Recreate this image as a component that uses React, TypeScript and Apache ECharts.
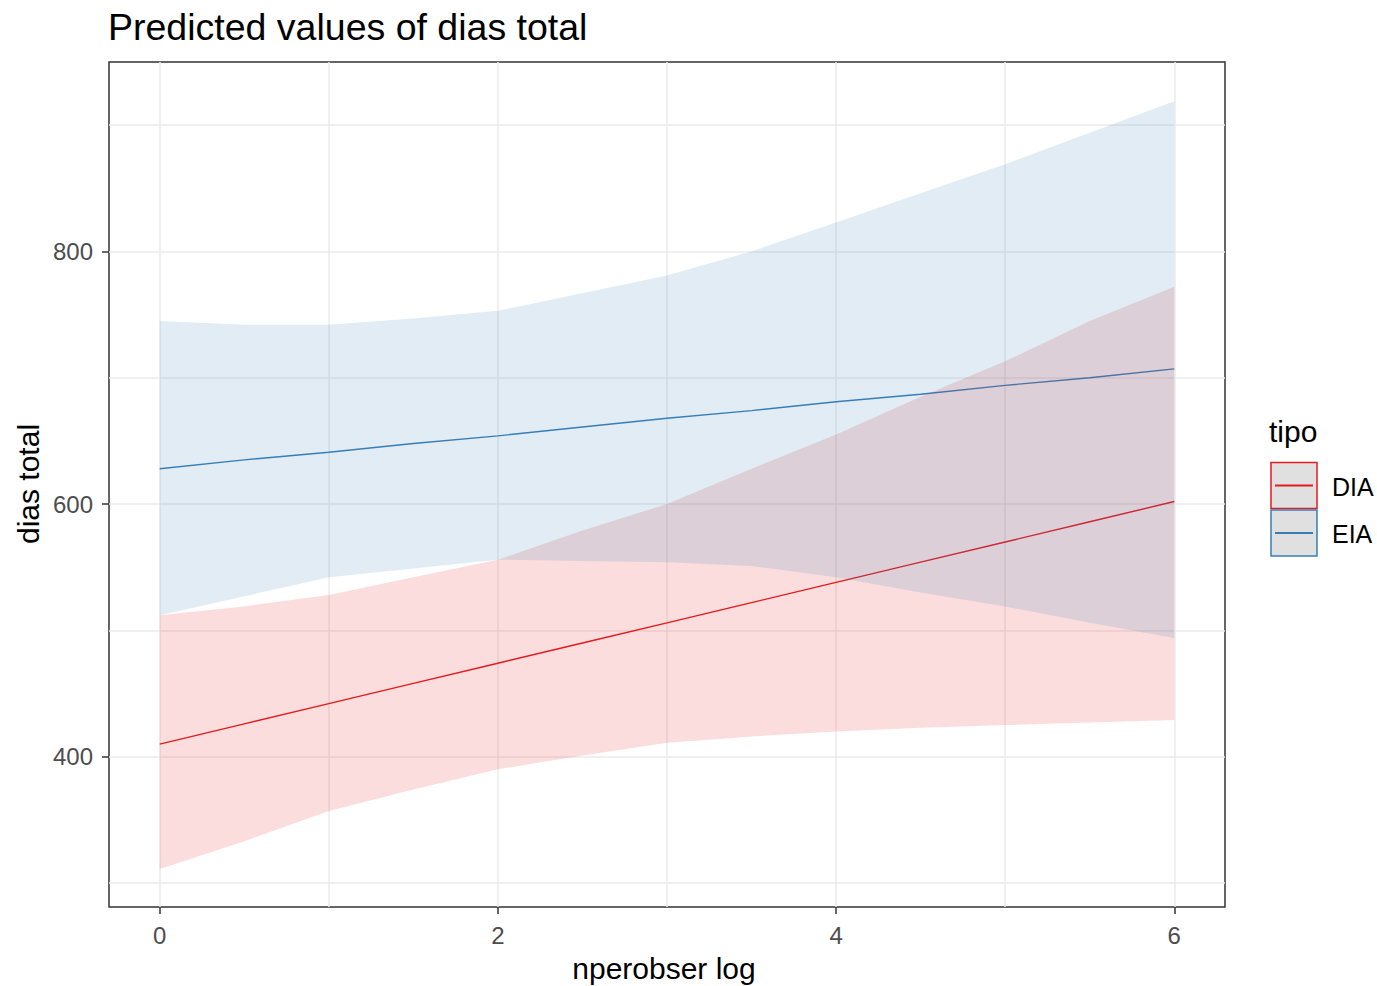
import React, { useEffect, useRef } from "react";
import * as echarts from "echarts";

const X_VALUES = [0, 0.5, 1, 1.5, 2, 2.5, 3, 3.5, 4, 4.5, 5, 5.5, 6];
const DIA_FIT = [410, 426, 442, 458, 474, 490, 506, 522, 538, 554, 570, 586, 602];
const DIA_LOW = [311, 333, 357, 374, 390, 401, 411, 416, 420, 423, 425, 427, 429];
const DIA_HIGH = [512, 519, 528, 542, 556, 579, 600, 628, 655, 685, 713, 745, 772];
const EIA_FIT = [628, 635, 641, 648, 654, 661, 668, 674, 681, 687, 694, 700, 707];
const EIA_LOW = [512, 527, 542, 549, 556, 555, 554, 551, 542, 530, 519, 506, 494];
const EIA_HIGH = [745, 742, 742, 747, 753, 767, 781, 800, 823, 846, 869, 894, 919];

const X_TICKS = [0, 2, 4, 6];
const Y_TICKS = [400, 600, 800];
const X_GRID = [0, 1, 2, 3, 4, 5, 6];
const Y_GRID = [300, 400, 500, 600, 700, 800, 900];
const GROUPS = ["DIA", "EIA"];
const COLORS = ["#E41A1C", "#377EB8"];
const FILLS = ["rgba(228,26,28,0.15)", "rgba(55,126,184,0.15)"];

const FONT = '"Liberation Sans", Arial, Helvetica, sans-serif';

const pairs = (ys: number[]) => X_VALUES.map((x, i) => [x, ys[i]]);

export default function App() {
  const ref = useRef<HTMLDivElement>(null);
  useEffect(() => {
    if (!ref.current) return;
    const chart = echarts.init(ref.current, null, { renderer: "svg" });
    const fits = [DIA_FIT, EIA_FIT];
    const lows = [DIA_LOW, EIA_LOW];
    const highs = [DIA_HIGH, EIA_HIGH];

    const series: any[] = [];
    series.push({
      name: "grid",
      type: "line",
      data: pairs(DIA_FIT),
      symbol: "none",
      silent: true,
      z: 1,
      lineStyle: { opacity: 0 },
      markLine: {
        silent: true,
        z: 1,
        symbol: "none",
        label: { show: false },
        animation: false,
        lineStyle: { color: "#EBEBEB", type: "solid", width: 1.5 },
        data: [
          ...X_GRID.map((v) => ({ xAxis: v })),
          ...Y_GRID.map((v) => ({ yAxis: v })),
        ],
      },
    });
    GROUPS.forEach((g, k) => {
      series.push({
        name: g,
        type: "line",
        data: pairs(fits[k]),
        symbol: "none",
        z: 2,
        lineStyle: { color: COLORS[k], width: 1.4 },
      });
    });
    GROUPS.forEach((g, k) => {
      const lo = lows[k];
      const hi = highs[k];
      series.push({
        name: g + " band",
        type: "custom",
        z: 3,
        silent: true,
        data: X_VALUES.map((x, i) => [x, lo[i], hi[i]]),
        encode: { x: 0, y: [1, 2] },
        renderItem: (params: any, api: any) => {
          if (params.dataIndex !== 0) return null;
          const top = X_VALUES.map((x, i) => api.coord([x, hi[i]]));
          const bottom = X_VALUES.map((x, i) => api.coord([x, lo[i]])).reverse();
          return {
            type: "polygon",
            shape: { points: top.concat(bottom) },
            style: { fill: FILLS[k], stroke: "none" },
          };
        },
      });
    });

    const legendGraphics: any[] = [
      {
        type: "text",
        x: 1269,
        y: 431,
        style: { text: "tipo", font: `30px ${FONT}`, fill: "#000", verticalAlign: "middle", align: "left" },
      },
    ];
    const boxY = [462.5, 510];
    GROUPS.forEach((g, k) => {
      legendGraphics.push({
        type: "rect",
        shape: { x: 1271, y: boxY[k], width: 46, height: 46 },
        style: { fill: "#E0E0E0", stroke: COLORS[k], lineWidth: 1.5 },
      });
      legendGraphics.push({
        type: "line",
        shape: { x1: 1275, y1: boxY[k] + 23, x2: 1313, y2: boxY[k] + 23 },
        style: { stroke: COLORS[k], lineWidth: 2 },
      });
      legendGraphics.push({
        type: "text",
        x: 1332,
        y: boxY[k] + 24,
        style: { text: g, font: `25px ${FONT}`, fill: "#000", verticalAlign: "middle", align: "left" },
      });
    });

    chart.setOption({
      animation: false,
      backgroundColor: "#FFFFFF",
      grid: {
        left: 109,
        right: 152,
        top: 62,
        bottom: 79,
        show: true,
        borderColor: "#333333",
        borderWidth: 1.5,
        backgroundColor: "transparent",
        containLabel: false,
      },
      xAxis: {
        type: "value",
        min: -0.3,
        max: 6.3,
        splitLine: { show: false },
        axisLine: { show: false, onZero: false },
        axisTick: {
          show: true,
          customValues: X_TICKS,
          length: 7,
          lineStyle: { color: "#333333", width: 1.5 },
        },
        axisLabel: {
          customValues: X_TICKS,
          color: "#4D4D4D",
          fontSize: 24,
          fontFamily: FONT,
          margin: 16,
        },
      },
      yAxis: {
        type: "value",
        min: 281,
        max: 950,
        splitLine: { show: false },
        axisLine: { show: false, onZero: false },
        axisTick: {
          show: true,
          customValues: Y_TICKS,
          length: 7,
          lineStyle: { color: "#333333", width: 1.5 },
        },
        axisLabel: {
          customValues: Y_TICKS,
          color: "#4D4D4D",
          fontSize: 24,
          fontFamily: FONT,
          margin: 16,
        },
      },
      graphic: [
        {
          type: "text",
          x: 108,
          y: 27,
          style: {
            text: "Predicted values of dias total",
            font: `37.5px ${FONT}`,
            fill: "#000",
            verticalAlign: "middle",
            align: "left",
          },
        },
        {
          type: "text",
          x: 664,
          y: 968,
          style: { text: "nperobser log", font: `30px ${FONT}`, fill: "#000", verticalAlign: "middle", align: "center" },
        },
        {
          type: "text",
          x: 28,
          y: 484,
          rotation: Math.PI / 2,
          style: { text: "dias total", font: `30px ${FONT}`, fill: "#000", verticalAlign: "middle", align: "center" },
        },
        ...legendGraphics,
      ],
      series,
    });
    return () => chart.dispose();
  }, []);
  return (
    <div
      ref={ref}
      style={{ position: "absolute", left: 0, top: 0, width: 1377, height: 986, background: "#fff" }}
    />
  );
}
